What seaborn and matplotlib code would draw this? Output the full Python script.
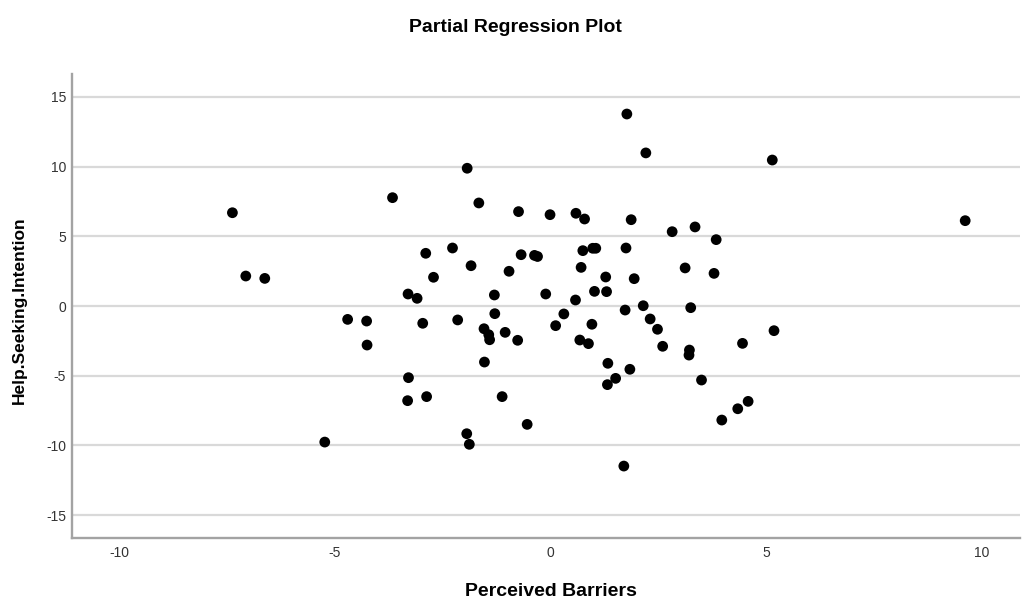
import matplotlib
matplotlib.use("Agg")
import matplotlib.pyplot as plt
import seaborn as sns
import pandas as pd

perceived_barriers = [
    -7.37, -7.06, -6.62, 1.77, 2.21, -1.93, -3.66, -1.66, -0.74, -0.01,
    0.59, 0.79, 1.87, 2.82, -2.89, -2.27, -2.71, -1.84, -0.96, -0.68,
    -0.37, -0.30, 0.75, 0.98, 1.05, 1.75, 0.71, 1.28, 1.94, -3.30,
    -3.09, -1.30, -0.11, 0.58, 1.02, 1.30, 2.15, 5.14, 9.61, 3.35,
    3.84, 3.12, 3.79, 3.25, -4.70, -5.23, -4.26, -4.25, -2.96, -2.15,
    -1.54, -1.29, -1.43, -1.41, -1.05, -0.76, -1.53, -3.29, -3.31, -2.87,
    -1.12, -0.54, -1.94, -1.88, 0.12, 0.31, 0.96, 0.68, 0.88, 1.73,
    2.31, 2.48, 2.60, 1.33, 1.84, 1.51, 1.32, 1.70, 3.22, 3.21,
    4.45, 5.18, 3.50, 3.97, 4.34, 4.58,
]
help_seeking_intention = [
    6.69, 2.15, 1.98, 13.77, 10.98, 9.88, 7.77, 7.39, 6.77, 6.55,
    6.65, 6.24, 6.19, 5.33, 3.78, 4.16, 2.06, 2.89, 2.49, 3.68,
    3.63, 3.55, 3.97, 4.14, 4.14, 4.16, 2.77, 2.08, 1.96, 0.86,
    0.55, 0.79, 0.86, 0.43, 1.05, 1.03, 0.02, 10.47, 6.12, 5.67,
    4.76, 2.73, 2.34, -0.12, -0.96, -9.76, -1.08, -2.80, -1.24, -1.00,
    -1.63, -0.55, -2.06, -2.42, -1.89, -2.46, -4.02, -5.14, -6.79, -6.50,
    -6.50, -8.49, -9.16, -9.92, -1.41, -0.57, -1.31, -2.44, -2.70, -0.29,
    -0.93, -1.67, -2.89, -4.11, -4.54, -5.19, -5.64, -11.48, -3.16, -3.52,
    -2.68, -1.77, -5.31, -8.18, -7.37, -6.84,
]
x_ticks = [-10, -5, 0, 5, 10]
y_ticks = [-15, -10, -5, 0, 5, 10, 15]

title = "Partial Regression Plot"
x_label = "Perceived Barriers"
y_label = "Help.Seeking.Intention"

df = pd.DataFrame({"x": perceived_barriers, "y": help_seeking_intention})

sns.set_style("white")
plt.rcParams["font.family"] = ["Liberation Sans", "DejaVu Sans"]

fig = plt.figure(figsize=(10.23, 6.0), dpi=100)
ax = fig.add_axes([72.3 / 1023, 62 / 600, (1020 - 72.3) / 1023, (538 - 74) / 600])

sns.scatterplot(data=df, x="x", y="y", ax=ax, color="black", s=60,
                edgecolor="none", linewidth=0, zorder=3)

ax.set_xlim(-11.08, 10.88)
ax.set_ylim(-16.64, 16.64)
ax.set_xticks(x_ticks)
ax.set_yticks(y_ticks)
ax.set_xticklabels([str(t) for t in x_ticks])
ax.set_yticklabels([str(t) for t in y_ticks])
ax.yaxis.grid(True, color="#d9d9d9", linewidth=1.6, zorder=0)
ax.xaxis.grid(False)
ax.set_axisbelow(True)

for side in ["top", "right"]:
    ax.spines[side].set_visible(False)
for side in ["left", "bottom"]:
    ax.spines[side].set_color("#a3a3a3")
    ax.spines[side].set_linewidth(1.7)

ax.tick_params(axis="both", length=0, labelsize=10, labelcolor="#333333")
ax.tick_params(axis="x", pad=5.5)
ax.tick_params(axis="y", pad=4.5)
ax.set_xlabel("")
ax.set_ylabel("")

fig.text(515 / 1023, 1 - 31.5 / 600, title, ha="center", va="baseline",
         fontsize=14, fontweight="bold", color="black")
fig.text(551 / 1023, 1 - 596.5 / 600, x_label, ha="center", va="baseline",
         fontsize=14, fontweight="bold", color="black")
fig.text(19 / 1023, 1 - 310 / 600, y_label, ha="center", va="center",
         rotation=90, fontsize=12.5, fontweight="bold", color="black")

fig.savefig("out.png", dpi=100)
